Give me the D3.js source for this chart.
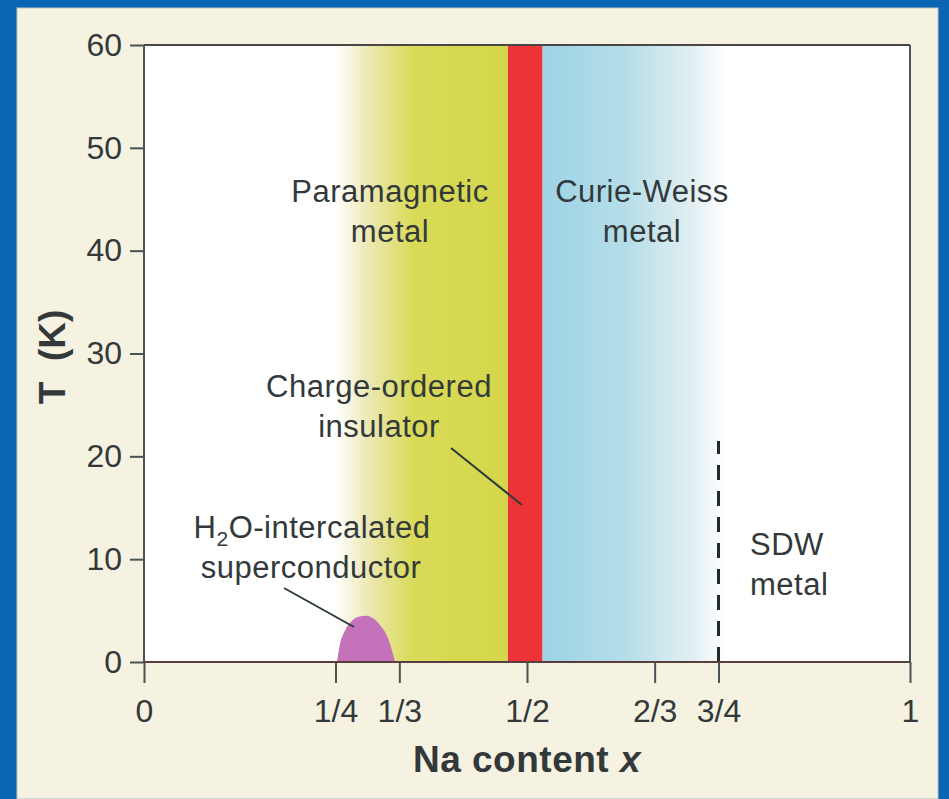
<!DOCTYPE html>
<html>
<head>
<meta charset="utf-8">
<script src="https://cdn.jsdelivr.net/npm/d3@7"></script>
<style>
  html, body { margin: 0; padding: 0; background: #0a66b4; }
  svg { display: block; }
  text { font-family: "Liberation Sans", Arial, sans-serif; fill: #33393a; }
</style>
</head>
<body>
<svg id="chart" width="949" height="799"></svg>
<script>
// Phase diagram of NaxCoO2: temperature against sodium content
const xTickValues = [0, 1/4, 1/3, 1/2, 2/3, 3/4, 1];
const xTickLabels = ["0", "1/4", "1/3", "1/2", "2/3", "3/4", "1"];
const yTickValues = [0, 10, 20, 30, 40, 50, 60];

// Phase regions (x bounds, T up to 60 K)
const paraBand = [0.25, 0.475];    // paramagnetic metal (fades in from the left)
const chargeBand = [0.475, 0.52];  // charge-ordered insulator
const curieBand = [0.52, 0.76];    // Curie-Weiss metal (fades out to the right)

// Superconducting dome of the hydrated compound
const domeX = [0.252, 0.256, 0.262, 0.270, 0.280, 0.290, 0.300, 0.310, 0.318, 0.323, 0.328];
const domeT = [0, 1.8, 3.0, 3.9, 4.4, 4.5, 4.2, 3.4, 2.4, 1.3, 0];

// SDW boundary at x = 3/4
const sdwX = [0.75, 0.75];
const sdwT = [0, 21.5];

const svg = d3.select("#chart");

// cream panel inside the blue frame
svg.append("rect").attr("x", 17).attr("y", 8).attr("width", 921).attr("height", 791)
  .attr("fill", "#f6f2e2").attr("stroke", "#b9c6c2").attr("stroke-width", 1);

const plotL = 144, plotR = 910, plotT = 45, plotB = 662;
const x = d3.scaleLinear().domain([0, 1]).range([plotL, plotR]);
const y = d3.scaleLinear().domain([0, 60]).range([plotB, plotT]);

const defs = svg.append("defs");
const gPara = defs.append("linearGradient").attr("id", "gPara")
  .attr("gradientUnits", "userSpaceOnUse")
  .attr("x1", x(paraBand[0])).attr("x2", x(paraBand[1])).attr("y1", 0).attr("y2", 0);
gPara.append("stop").attr("offset", 0).attr("stop-color", "#ffffff");
gPara.append("stop").attr("offset", 0.18).attr("stop-color", "#ede9b8");
gPara.append("stop").attr("offset", 0.45).attr("stop-color", "#d9da58");
gPara.append("stop").attr("offset", 1).attr("stop-color", "#d4d74a");

const gCurie = defs.append("linearGradient").attr("id", "gCurie")
  .attr("gradientUnits", "userSpaceOnUse")
  .attr("x1", x(curieBand[0])).attr("x2", x(curieBand[1])).attr("y1", 0).attr("y2", 0);
gCurie.append("stop").attr("offset", 0).attr("stop-color", "#9dd3e6");
gCurie.append("stop").attr("offset", 0.45).attr("stop-color", "#b5dde9");
gCurie.append("stop").attr("offset", 0.82).attr("stop-color", "#e2eff2");
gCurie.append("stop").attr("offset", 1).attr("stop-color", "#ffffff");

// plot background
svg.append("rect").attr("x", plotL).attr("y", plotT).attr("width", plotR - plotL).attr("height", plotB - plotT)
  .attr("fill", "#ffffff");

const bands = [
  { b: paraBand, fill: "url(#gPara)" },
  { b: curieBand, fill: "url(#gCurie)" },
  { b: chargeBand, fill: "#ee3338" }
];
svg.selectAll("rect.band").data(bands).join("rect").attr("class", "band")
  .attr("x", d => x(d.b[0])).attr("width", d => x(d.b[1]) - x(d.b[0]))
  .attr("y", y(60)).attr("height", y(0) - y(60))
  .attr("fill", d => d.fill);

// superconducting dome
const dome = d3.area()
  .x((d, i) => x(domeX[i])).y0(y(0)).y1((d, i) => y(domeT[i]))
  .curve(d3.curveMonotoneX);
svg.append("path").datum(domeX).attr("d", dome).attr("fill", "#c472b9");

// SDW dashed boundary
svg.append("line")
  .attr("x1", x(sdwX[0])).attr("x2", x(sdwX[1]))
  .attr("y1", y(sdwT[0])).attr("y2", y(sdwT[1]))
  .attr("stroke", "#222a2a").attr("stroke-width", 3).attr("stroke-dasharray", "15,11");

// axes
const xAxis = d3.axisBottom(x).tickValues(xTickValues)
  .tickFormat((d, i) => xTickLabels[i]).tickSize(21).tickPadding(16);
const gx = svg.append("g").attr("transform", `translate(0,${plotB})`).call(xAxis);
gx.select(".domain").remove();
gx.selectAll(".tick line").attr("stroke", "#4a5252").attr("stroke-width", 2);
gx.selectAll(".tick text").attr("font-size", 32).attr("fill", "#33393a")
  .attr("font-family", "Liberation Sans, Arial, sans-serif");

const yAxis = d3.axisLeft(y).tickValues(yTickValues).tickSize(14).tickPadding(8);
const gy = svg.append("g").attr("transform", `translate(${plotL},0)`).call(yAxis);
gy.select(".domain").remove();
gy.selectAll(".tick line").attr("stroke", "#4a5252").attr("stroke-width", 2);
gy.selectAll(".tick text").attr("font-size", 32).attr("fill", "#33393a")
  .attr("font-family", "Liberation Sans, Arial, sans-serif");

// frame of the plot
svg.append("line").attr("x1", plotL).attr("x2", plotR).attr("y1", plotT).attr("y2", plotT)
  .attr("stroke", "#4a4646").attr("stroke-width", 2);
svg.append("line").attr("x1", plotL).attr("x2", plotR).attr("y1", plotB).attr("y2", plotB)
  .attr("stroke", "#5a3e3e").attr("stroke-width", 2);
svg.append("line").attr("x1", plotL).attr("x2", plotL).attr("y1", plotT).attr("y2", plotB)
  .attr("stroke", "#4a5656").attr("stroke-width", 2);
svg.append("line").attr("x1", plotR).attr("x2", plotR).attr("y1", plotT).attr("y2", plotB)
  .attr("stroke", "#4a5656").attr("stroke-width", 2);

// axis titles
const xt = svg.append("text").attr("x", x(0.5)).attr("y", 772).attr("text-anchor", "middle")
  .attr("font-size", 37).attr("font-weight", "bold").attr("letter-spacing", 0.5);
xt.append("tspan").text("Na content ");
xt.append("tspan").attr("font-style", "italic").text("x");

svg.append("text").attr("transform", "translate(65,357) rotate(-90)")
  .attr("text-anchor", "middle").attr("font-size", 37).attr("font-weight", "bold")
  .attr("xml:space", "preserve").text("T  (K)");

// region labels
function label(lines, cx, y0, anchor) {
  const t = svg.append("text").attr("text-anchor", anchor || "middle")
    .attr("font-size", 31).attr("letter-spacing", 0.5);
  lines.forEach((s, i) => t.append("tspan").attr("x", cx).attr("y", y0 + i * 40).text(s));
  return t;
}
label(["Paramagnetic", "metal"], 390, 202);
label(["Curie-Weiss", "metal"], 642, 202);
label(["Charge-ordered", "insulator"], 379, 397);
label(["SDW", "metal"], 750, 555, "start");

const sc = svg.append("text").attr("text-anchor", "middle").attr("font-size", 31).attr("letter-spacing", 0.5);
const l1 = sc.append("tspan").attr("x", 312).attr("y", 538);
l1.append("tspan").text("H");
l1.append("tspan").attr("font-size", 21).attr("dy", 8).text("2");
l1.append("tspan").attr("dy", -8).text("O-intercalated");
sc.append("tspan").attr("x", 311).attr("y", 578).text("superconductor");

// leader lines
svg.append("line").attr("x1", 451).attr("y1", 448).attr("x2", 522).attr("y2", 505)
  .attr("stroke", "#2f3a3a").attr("stroke-width", 2);
svg.append("line").attr("x1", 284).attr("y1", 588).attr("x2", 354).attr("y2", 627)
  .attr("stroke", "#2f3a3a").attr("stroke-width", 2);
</script>
</body>
</html>
